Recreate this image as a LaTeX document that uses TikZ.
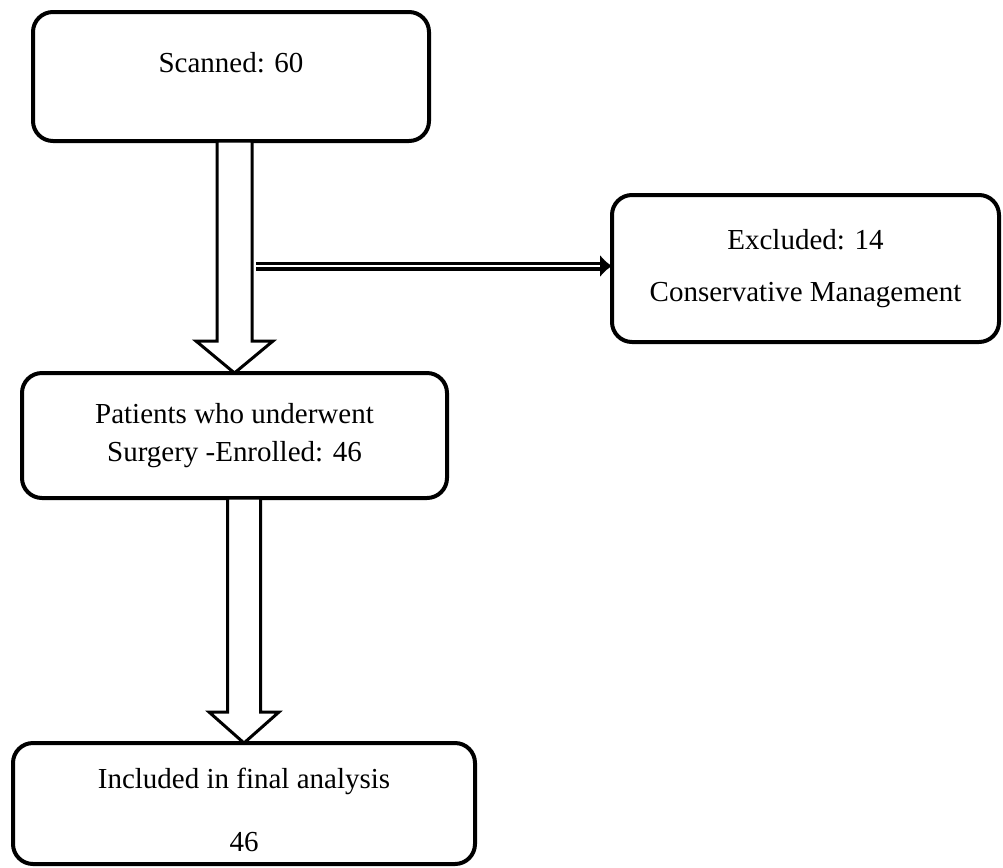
\documentclass[tikz,border=0pt]{standalone}
\usepackage{fontspec}
\setmainfont{Liberation Serif}
\usepackage{tikz}
\usetikzlibrary{arrows.meta,calc,positioning}
\tikzstyle{stage} = [rectangle, rounded corners=0.4cm, inner sep=0pt, outer sep=0pt, text centered, align=center, draw=black, line width=0.08cm, font=\fontsize{16.5}{22}\selectfont]
\tikzstyle{hollow} = [draw=black, fill=white, line width=0.06cm, line join=miter]
\tikzstyle{sidearrow} = [double=white, double distance=0.05cm, line width=0.065cm, -{Latex[length=0.24cm,width=0.46cm]}]

\begin{document}
\begin{tikzpicture}
\useasboundingbox (0,0) rectangle (20.06,-17.34);

% Scanned
\node (scanned) [stage, minimum width=7.92cm, minimum height=2.58cm, text height=0.3cm, text depth=0.48cm] at (4.62,-1.53) {Scanned: 60};

% Enrolled
\node (enrolled) [stage, minimum width=8.5cm, minimum height=2.5cm] at (4.69,-8.71) {Patients who underwent\\Surgery -Enrolled: 46};

% Excluded
\node (excluded) [stage, minimum width=7.74cm, minimum height=2.94cm] at (16.11,-5.37) {Excluded: 14\\[0.28cm]Conservative Management};

% Final
\node (final) [stage, minimum width=9.24cm, minimum height=2.42cm, text height=1.94cm] at (4.88,-16.07) {Included in final analysis\\[0.5cm]46};

% Block arrows
\draw[hollow] (enrolled.north) -- ++(-0.77,0.64) -- ++(0.42,0) -- ($(enrolled.north |- scanned.south)+(-0.35,0)$) -- ++(0.7,0) -- ($(enrolled.north)+(0.35,0.64)$) -- ++(0.42,0) -- cycle;
\draw[hollow] (final.north) -- ++(-0.7,0.62) -- ++(0.37,0) -- ($(final.north |- enrolled.south)+(-0.33,0)$) -- ++(0.66,0) -- ($(final.north)+(0.33,0.62)$) -- ++(0.37,0) -- cycle;

% Side arrow
\coordinate (split) at (5.12,-5.32);
\draw[sidearrow] (split) -- (split -| excluded.west);
\end{tikzpicture}
\end{document}
